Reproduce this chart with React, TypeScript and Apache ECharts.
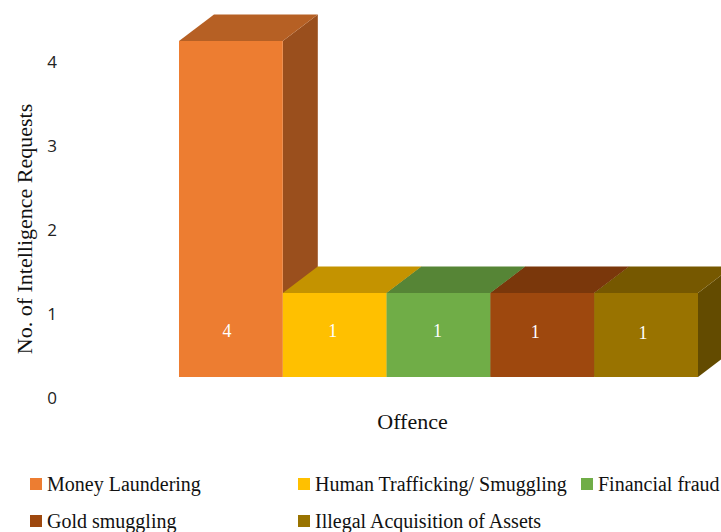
import React, { useEffect, useRef } from "react";
import * as echarts from "echarts";

const categories = [
  "Money Laundering",
  "Human Trafficking/ Smuggling",
  "Financial fraud",
  "Gold smuggling",
  "Illegal Acquisition of Assets",
];
const values = [4, 1, 1, 1, 1];
const yTicks = [0, 1, 2, 3, 4];
const frontColors = ["#ED7D31", "#FFC000", "#70AD47", "#9E480E", "#997300"];
const topColors = ["#B66024", "#C49300", "#568536", "#7A370B", "#765800"];
const sideColors = ["#9A4F1D", "#A67D00", "#49712E", "#672F09", "#634B00"];

const SERIF = '"Liberation Serif", "Times New Roman", serif';
const SANS = '"Open Sans", sans-serif';
const DEPTH_X = 35;
const DEPTH_Y = 26.5;
const FLOOR_SHIFT = 20;
const LABEL_NUDGE_X = [-4, -2, -1, -7, -3];
const LABEL_NUDGE_Y = [-4, -4, -4, -3, -2];
const LEGEND_POS = [
  [30, 474],
  [298, 474],
  [581, 474],
  [30, 511],
  [298, 511],
];

export default function App() {
  const ref = useRef<HTMLDivElement>(null);
  useEffect(() => {
    const chart = echarts.init(ref.current!, undefined, { renderer: "svg" });
    const series = categories.map((name, i) => ({
      type: "custom",
      name,
      coordinateSystem: "cartesian2d",
      itemStyle: { color: frontColors[i] },
      encode: { x: 0, y: 1 },
      data: [[name, values[i]]],
      z: 2 + i,
      renderItem: (_p: any, api: any) => {
        const idx = i;
        const size = api.size([1, 0]);
        const [cx, yTop] = api.coord([idx, api.value(1)]);
        const [, yBase] = api.coord([idx, 0]);
        const [, yMid] = api.coord([idx, 0.5]);
        const l = cx - size[0] / 2;
        const r = cx + size[0] / 2;
        const t = yTop - FLOOR_SHIFT;
        const b = yBase - FLOOR_SHIFT;
        return {
          type: "group",
          children: [
            {
              type: "polygon",
              shape: { points: [[r, t], [r + DEPTH_X, t - DEPTH_Y], [r + DEPTH_X, b - DEPTH_Y], [r, b]] },
              style: { fill: sideColors[idx] },
            },
            {
              type: "polygon",
              shape: { points: [[l, t], [l + DEPTH_X, t - DEPTH_Y], [r + DEPTH_X, t - DEPTH_Y], [r, t]] },
              style: { fill: topColors[idx] },
            },
            {
              type: "rect",
              shape: { x: l, y: t, width: r - l, height: b - t },
              style: { fill: frontColors[idx] },
            },
            {
              type: "text",
              style: {
                x: cx + LABEL_NUDGE_X[idx],
                y: yMid - FLOOR_SHIFT + LABEL_NUDGE_Y[idx],
                text: String(values[idx]),
                fill: "#ffffff",
                font: `18px ${SERIF}`,
                align: "center",
                verticalAlign: "middle",
              },
            },
          ],
        };
      },
    }));
    chart.setOption({
      animation: false,
      backgroundColor: "#ffffff",
      grid: { left: 179, right: 23, top: 61, bottom: 135 },
      xAxis: {
        type: "category",
        data: categories,
        axisLine: { show: false },
        axisTick: { show: false },
        axisLabel: { show: false },
        name: "Offence",
        nameLocation: "middle",
        nameGap: 13,
        nameTextStyle: { fontFamily: SERIF, fontSize: 22, color: "#111", padding: [0, 52, 0, 0] },
      },
      yAxis: {
        type: "value",
        min: 0,
        max: 4,
        interval: 1,
        splitLine: { show: false },
        axisLine: { show: false },
        axisTick: { show: false },
        axisLabel: {
          formatter: (v: number) => (yTicks.includes(v) ? String(v) : ""),
          fontFamily: SANS,
          fontSize: 17,
          color: "#222",
          align: "center",
          margin: 127,
        },
        name: "No. of Intelligence Requests",
        nameLocation: "middle",
        nameGap: 144,
        nameTextStyle: { fontFamily: SERIF, fontSize: 22, color: "#111" },
      },
      legend: categories.map((name, i) => ({
        data: [name],
        left: LEGEND_POS[i][0],
        top: LEGEND_POS[i][1],
        padding: 0,
        icon: "rect",
        itemWidth: 12,
        itemHeight: 12,
        selectedMode: false,
        textStyle: { fontFamily: SERIF, fontSize: 20, color: "#111" },
      })),
      series,
    });
    return () => chart.dispose();
  }, []);
  return <div ref={ref} style={{ position: "absolute", left: 0, top: 0, width: 721, height: 532 }} />;
}
